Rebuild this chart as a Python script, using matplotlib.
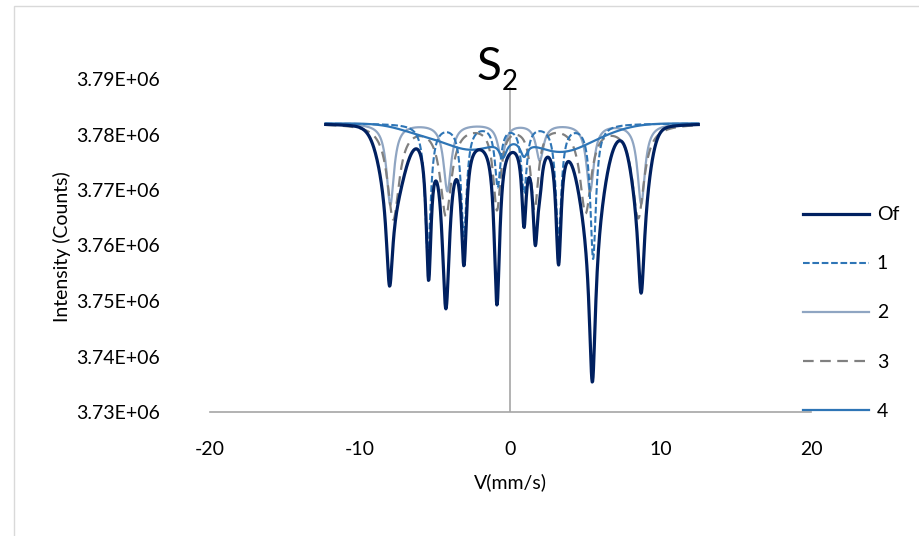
import numpy as np
import matplotlib
matplotlib.use("Agg")
import matplotlib.pyplot as plt
from matplotlib.ticker import FuncFormatter
from matplotlib.patches import Rectangle

plt.rcParams['font.family'] = ['Lato', 'DejaVu Sans']
plt.rcParams['axes.unicode_minus'] = False

# Velocity range of the recorded spectrum (mm/s) and off-resonance level
v_start, v_end = -12.3, 12.5
baseline = 3.7820e6

# Sub-spectrum 1: narrow sextet (positions mm/s, depths counts, FWHM mm/s)
s1_pos = [-5.5, -3.1, -0.85, 0.9, 3.2, 5.5]
s1_depth = [23800, 20000, 11000, 12000, 20500, 24200]
s1_fwhm = [0.45, 0.45, 0.45, 0.45, 0.45, 0.45]

# Sub-spectrum 2
s2_pos = [-8.0, -4.2, -0.6, 1.95, 5.3, 8.7]
s2_depth = [14600, 12100, 6000, 6500, 12100, 14400]
s2_fwhm = [0.6, 0.6, 0.6, 0.6, 0.6, 0.6]

# Sub-spectrum 3
s3_pos = [-7.8, -4.3, -0.9, 1.6, 5.0, 8.5]
s3_depth = [17000, 16200, 15000, 15000, 15700, 16800]
s3_fwhm = [0.95, 0.9, 0.6, 0.6, 0.9, 0.95]

# Sub-spectrum 4: broad distribution plus two small lines
s4_broad_pos = [-6.0, -2.6, 3.3, 6.5]
s4_broad_depth = [1400, 4500, 5000, 600]
s4_broad_sigma = [1.5, 1.8, 2.0, 1.5]
s4_pos = [-0.5, 0.9]
s4_depth = [3000, 2800]
s4_fwhm = [0.6, 0.6]

# Overall fit: broad background, Gaussian shoulders and sharp lines
of_bg_pos = [0.5]
of_bg_depth = [2400]
of_bg_sigma = [4.2]
of_g_pos = [-7.85, 5.4, 8.65]
of_g_depth = [12000, 16000, 12000]
of_g_sigma = [0.75, 0.75, 0.55]
of_pos = [-8.05, -5.45, -4.3, -3.1, -0.9, 0.9, 1.65, 1.95, 3.2, 5.45, 8.7]
of_depth = [17000, 25000, 30500, 21600, 29600, 14200, 16500, 5000, 22300, 29000, 18000]
of_fwhm = [0.5, 0.4, 0.6, 0.42, 0.45, 0.35, 0.4, 0.4, 0.42, 0.5, 0.5]

series_labels = ["Of", "1", "2", "3", "4"]
x_ticks = [-20, -10, 0, 10, 20]
y_ticks = [3.73e6, 3.74e6, 3.75e6, 3.76e6, 3.77e6, 3.78e6, 3.79e6]


def lorentz_dip(v, pos, depth, fwhm):
    out = np.zeros_like(v)
    for p, d, w in zip(pos, depth, fwhm):
        h = w / 2.0
        out += d * h * h / ((v - p) ** 2 + h * h)
    return out


def gauss_dip(v, pos, depth, sigma):
    out = np.zeros_like(v)
    for p, d, s in zip(pos, depth, sigma):
        out += d * np.exp(-0.5 * ((v - p) / s) ** 2)
    return out


v = np.linspace(v_start, v_end, 900)
sub1 = baseline - lorentz_dip(v, s1_pos, s1_depth, s1_fwhm)
sub2 = baseline - lorentz_dip(v, s2_pos, s2_depth, s2_fwhm)
sub3 = baseline - lorentz_dip(v, s3_pos, s3_depth, s3_fwhm)
sub4 = (baseline - gauss_dip(v, s4_broad_pos, s4_broad_depth, s4_broad_sigma)
        - lorentz_dip(v, s4_pos, s4_depth, s4_fwhm))
total = (baseline - gauss_dip(v, of_bg_pos, of_bg_depth, of_bg_sigma)
         - gauss_dip(v, of_g_pos, of_g_depth, of_g_sigma)
         - lorentz_dip(v, of_pos, of_depth, of_fwhm))

W, H = 920, 536
fig = plt.figure(figsize=(W / 100, H / 100), dpi=100)
ax = fig.add_axes([210 / W, 1 - 412 / H, 601 / W, 333 / H])

c_of = "#002060"
c_blue = "#2E75B6"
c_light = "#8FA5C2"
c_grey = "#808080"

l2, = ax.plot(v, sub2, color=c_light, lw=1.6)
l3, = ax.plot(v, sub3, color=c_grey, lw=1.6, ls=(0, (4.8, 2.9)))
l4, = ax.plot(v, sub4, color=c_blue, lw=1.6)
l1, = ax.plot(v, sub1, color=c_blue, lw=1.5, ls=(0, (3.2, 1.3)))
l0, = ax.plot(v, total, color=c_of, lw=2.3)

ax.set_xlim(-20, 20)
ax.set_ylim(3.73e6, 3.79e6)
ax.set_xticks(x_ticks)
ax.set_yticks(y_ticks)
ax.yaxis.set_major_formatter(FuncFormatter(lambda y, _: f"{y:.2E}"))
for s in ax.spines.values():
    s.set_visible(False)
ax.axhline(3.73e6, color="#A6A6A6", lw=1.2, clip_on=False, zorder=0)
ax.axvline(0, ymin=0, ymax=0.972, color="#A6A6A6", lw=1.2, zorder=0)
ax.tick_params(axis="both", length=0, labelsize=14, colors="black")
ax.tick_params(axis="y", pad=36)
ax.tick_params(axis="x", pad=21)

fig.text(62 / W, 1 - 247 / H, "Intensity (Counts)", rotation=90,
         ha="center", va="center", fontsize=14)
fig.text(510 / W, 1 - 482 / H, "V(mm/s)", ha="center", va="center", fontsize=14)

fig.text(501 / W, 1 - 80 / H, "S", ha="right", va="baseline", fontsize=33)
fig.text(502 / W, 1 - 90 / H, "2", ha="left", va="baseline", fontsize=20)

leg = fig.legend([l0, l1, l2, l3, l4], series_labels, loc="center left",
                 bbox_to_anchor=(803 / W, 1 - 313 / H), frameon=False,
                 fontsize=14, handlelength=3.4, handletextpad=0.4,
                 labelspacing=1.65, borderpad=0, borderaxespad=0)

fig.add_artist(Rectangle((14 / W, -0.5), 2, 1.5 - 6 / H,
                         transform=fig.transFigure, fill=False,
                         edgecolor="#D9D9D9", lw=1))

fig.savefig("out.png", dpi=100)
